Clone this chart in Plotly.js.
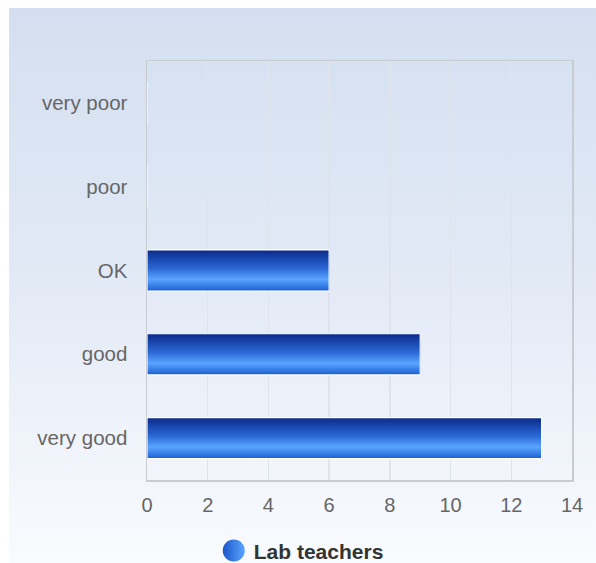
<!DOCTYPE html>
<html><head><meta charset="utf-8">
<script src="https://cdn.plot.ly/plotly-3.0.1.min.js"></script>
<style>
html,body{margin:0;padding:0;background:#fff;width:596px;height:563px;overflow:hidden}
#bg{position:absolute;left:9px;top:8px;width:587px;height:555px;background:linear-gradient(to bottom,#d3dff0 0%,#e3eaf6 50%,#f9fbfe 100%)}
#chart{position:absolute;left:0;top:0;width:596px;height:563px}
</style></head>
<body><div id="bg"></div><div id="chart"></div>
<script>
const categories = ["very poor", "poor", "OK", "good", "very good"];
const values = [0, 0, 6, 9, 13];
const seriesName = "Lab teachers";
const xTicks = [0, 2, 4, 6, 8, 10, 12, 14];

// gradient stops (top -> bottom of each bar)
const stops = [[0, [10, 42, 138]], [0.45, [43, 104, 214]], [0.72, [90, 165, 255]], [1, [28, 94, 210]]];
function colorAt(t) {
  for (let i = 0; i < stops.length - 1; i++) {
    const [a, ca] = stops[i], [b, cb] = stops[i + 1];
    if (t >= a && t <= b) {
      const f = (t - a) / (b - a);
      const c = ca.map((v, k) => Math.round(v + (cb[k] - v) * f));
      return `rgb(${c[0]},${c[1]},${c[2]})`;
    }
  }
  return 'rgb(28,94,210)';
}
const barW = 0.49, N = 30;
const traces = [];
for (let i = 0; i < N; i++) {
  const t = (i + 0.5) / N;
  traces.push({
    type: 'bar', orientation: 'h', y: categories, x: values,
    offset: -barW / 2 + i * barW / N, width: barW - i * barW / N,
    marker: { color: colorAt(t), line: { width: 0 } },
    showlegend: false, hoverinfo: 'skip'
  });
}
// white outline
traces.push({
  type: 'bar', orientation: 'h', y: categories, x: values,
  offset: -barW / 2, width: barW,
  marker: { color: 'rgba(0,0,0,0)', line: { width: 1.2, color: '#ffffff' } },
  showlegend: false, hoverinfo: 'skip'
});
// legend entry
traces.push({
  type: 'scatter', mode: 'markers', x: [null], y: [null], name: seriesName,
  marker: { symbol: 'circle', size: 16, color: '#1a56c8',
            gradient: { type: 'horizontal', color: '#5aa5ff' }, line: { width: 0 } },
  showlegend: true
});

const layout = {
  width: 596, height: 563,
  margin: { l: 147, r: 24, t: 61, b: 83, autoexpand: false },
  paper_bgcolor: 'rgba(0,0,0,0)', plot_bgcolor: 'rgba(0,0,0,0)',
  barmode: 'overlay',
  font: { family: 'Liberation Sans, Arial, sans-serif', color: '#666', size: 20 },
  xaxis: {
    range: [0, 14], tickvals: xTicks, ticktext: xTicks.map(String),
    showgrid: true, gridcolor: '#dfe4ec', gridwidth: 1.5,
    showline: true, linecolor: '#c8ccd2', linewidth: 1.5, mirror: true,
    zeroline: false, ticks: '', ticklabelstandoff: 6,
    tickfont: { size: 20, color: '#666' }, fixedrange: true, automargin: false
  },
  yaxis: {
    type: 'category', categoryorder: 'array', categoryarray: categories,
    autorange: 'reversed', showgrid: false,
    showline: true, linecolor: '#c8ccd2', linewidth: 1.5, mirror: true,
    ticks: '', ticklabelstandoff: 14,
    tickfont: { size: 20.5, color: '#666' }, fixedrange: true, automargin: false
  },
  showlegend: true,
  legend: {
    orientation: 'h', x: 0.363, xanchor: 'center', y: -0.169, yanchor: 'middle',
    bgcolor: 'rgba(0,0,0,0)',
    font: { size: 21, color: '#333', weight: 'bold' }
  }
};
Plotly.newPlot('chart', traces, layout, { displayModeBar: false, staticPlot: true }).then(() => {
  document.querySelectorAll('.legendpoints path').forEach(p => {
    const t = p.getAttribute('transform') || '';
    p.setAttribute('transform', t + ' scale(1.38)');
  });
});
</script></body></html>
